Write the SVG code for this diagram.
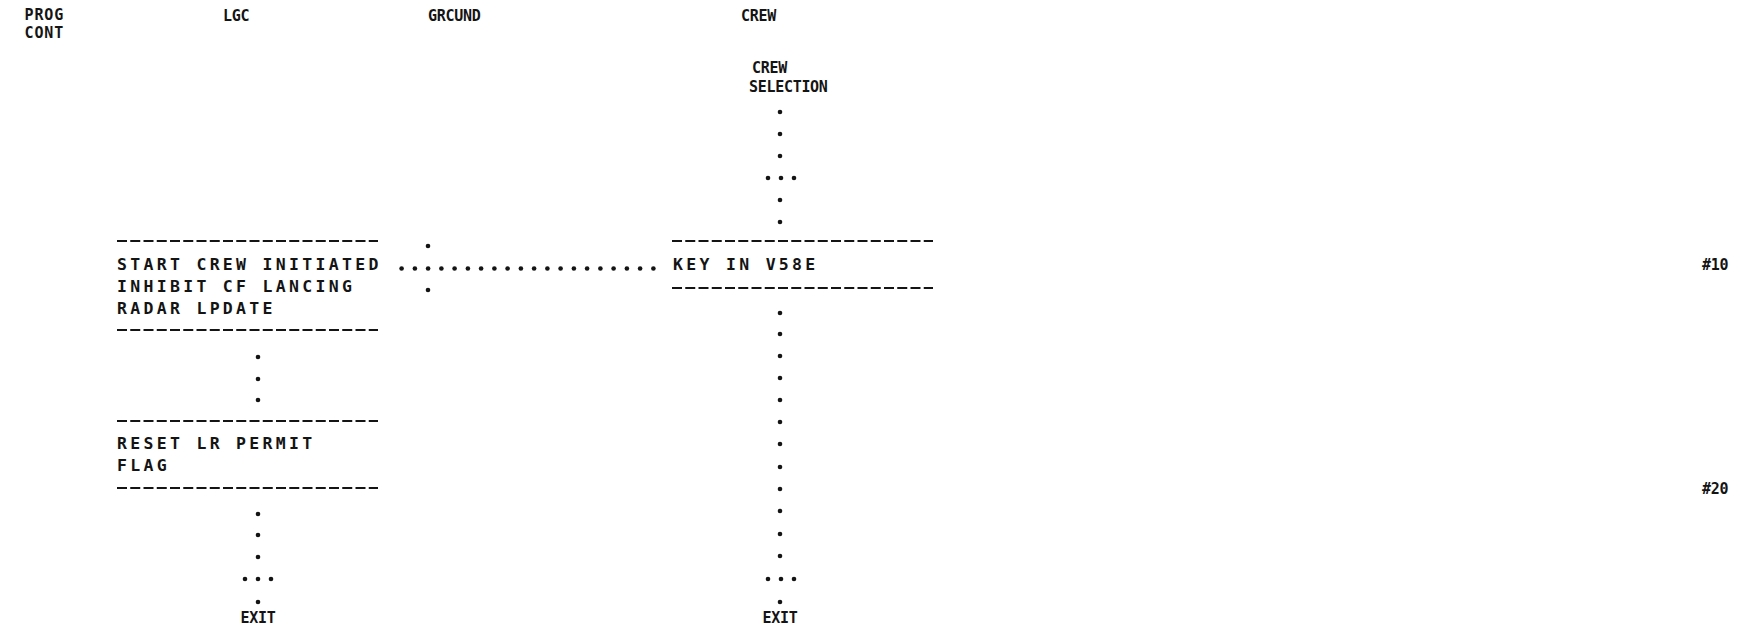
<svg xmlns="http://www.w3.org/2000/svg" width="1747" height="633" viewBox="0 0 1747 633">
<style>
.t{font-family:"DejaVu Sans Mono","Liberation Mono",monospace;font-size:16.5px;font-weight:bold;letter-spacing:3.3px;fill:#141414}
.s{font-family:"DejaVu Sans Mono","Liberation Mono",monospace;font-size:15px;font-weight:bold;letter-spacing:-0.3px;fill:#141414}
.w{letter-spacing:0.9px}
.m{text-anchor:middle}
.d{stroke:#141414;stroke-width:2.1;stroke-dasharray:10 3.25;fill:none}
.p{fill:#141414}
</style>
<rect width="1747" height="633" fill="#fff"/>
<g id="header">
<text class="s w" x="24.5" y="20">PROG</text>
<text class="s w" x="24.5" y="38">CONT</text>
<text class="s" x="223" y="21">LGC</text>
<text class="s" x="428" y="21">GRCUND</text>
<text class="s" x="741" y="21">CREW</text>
</g>
<g id="crew-selection">
<text class="s" x="752" y="72.5">CREW</text>
<text class="s" x="749" y="91.5">SELECTION</text>
</g>
<g id="box-start">
<line class="d" x1="117" y1="241" x2="378" y2="241"/>
<text class="t" x="117" y="270">START CREW INITIATED</text>
<text class="t" x="117" y="292">INHIBIT CF LANCING</text>
<text class="t" x="117" y="314">RADAR LPDATE</text>
<line class="d" x1="117" y1="330" x2="378" y2="330"/>
</g>
<g id="box-key">
<line class="d" x1="672" y1="241" x2="933" y2="241"/>
<text class="t" x="673" y="270">KEY IN V58E</text>
<line class="d" x1="672" y1="288" x2="933" y2="288"/>
</g>
<g id="box-reset">
<line class="d" x1="117" y1="421" x2="378" y2="421"/>
<text class="t" x="117" y="449">RESET LR PERMIT</text>
<text class="t" x="117" y="471">FLAG</text>
<line class="d" x1="117" y1="488" x2="378" y2="488"/>
</g>
<g id="exit-left"><text class="s m" x="258" y="623">EXIT</text></g>
<g id="exit-right"><text class="s m" x="780" y="623">EXIT</text></g>
<g id="marks">
<text class="s" x="1702" y="270">#10</text>
<text class="s" x="1702" y="494">#20</text>
</g>
<g id="connectors" class="p">
<circle cx="780" cy="112" r="2.3"/><circle cx="780" cy="134" r="2.3"/><circle cx="780" cy="156" r="2.3"/>
<circle cx="768" cy="178" r="2.3"/><circle cx="781" cy="178" r="2.3"/><circle cx="794" cy="178" r="2.3"/>
<circle cx="780" cy="200" r="2.3"/><circle cx="780" cy="222" r="2.3"/>
<circle cx="428" cy="246" r="2.3"/><circle cx="428" cy="290" r="2.3"/>
<circle cx="401.6" cy="268.5" r="2.3"/><circle cx="414.9" cy="268.5" r="2.3"/><circle cx="428.1" cy="268.5" r="2.3"/><circle cx="441.4" cy="268.5" r="2.3"/><circle cx="454.6" cy="268.5" r="2.3"/><circle cx="467.9" cy="268.5" r="2.3"/><circle cx="481.1" cy="268.5" r="2.3"/><circle cx="494.4" cy="268.5" r="2.3"/><circle cx="507.6" cy="268.5" r="2.3"/><circle cx="520.9" cy="268.5" r="2.3"/><circle cx="534.1" cy="268.5" r="2.3"/><circle cx="547.4" cy="268.5" r="2.3"/><circle cx="560.6" cy="268.5" r="2.3"/><circle cx="573.9" cy="268.5" r="2.3"/><circle cx="587.1" cy="268.5" r="2.3"/><circle cx="600.4" cy="268.5" r="2.3"/><circle cx="613.6" cy="268.5" r="2.3"/><circle cx="626.9" cy="268.5" r="2.3"/><circle cx="640.1" cy="268.5" r="2.3"/><circle cx="653.4" cy="268.5" r="2.3"/>
<circle cx="780" cy="313" r="2.3"/><circle cx="780" cy="334" r="2.3"/><circle cx="780" cy="356" r="2.3"/><circle cx="780" cy="378" r="2.3"/><circle cx="780" cy="400" r="2.3"/><circle cx="780" cy="422" r="2.3"/><circle cx="780" cy="444" r="2.3"/><circle cx="780" cy="467" r="2.3"/><circle cx="780" cy="489" r="2.3"/><circle cx="780" cy="511" r="2.3"/><circle cx="780" cy="534" r="2.3"/><circle cx="780" cy="556" r="2.3"/>
<circle cx="768" cy="579" r="2.3"/><circle cx="781" cy="579" r="2.3"/><circle cx="794" cy="579" r="2.3"/>
<circle cx="780" cy="602" r="2.3"/>
<circle cx="258" cy="357" r="2.3"/><circle cx="258" cy="379" r="2.3"/><circle cx="258" cy="400" r="2.3"/>
<circle cx="258" cy="514" r="2.3"/><circle cx="258" cy="535" r="2.3"/><circle cx="258" cy="557" r="2.3"/>
<circle cx="245" cy="579" r="2.3"/><circle cx="258" cy="579" r="2.3"/><circle cx="271" cy="579" r="2.3"/>
<circle cx="258" cy="602" r="2.3"/>
</g>
</svg>
